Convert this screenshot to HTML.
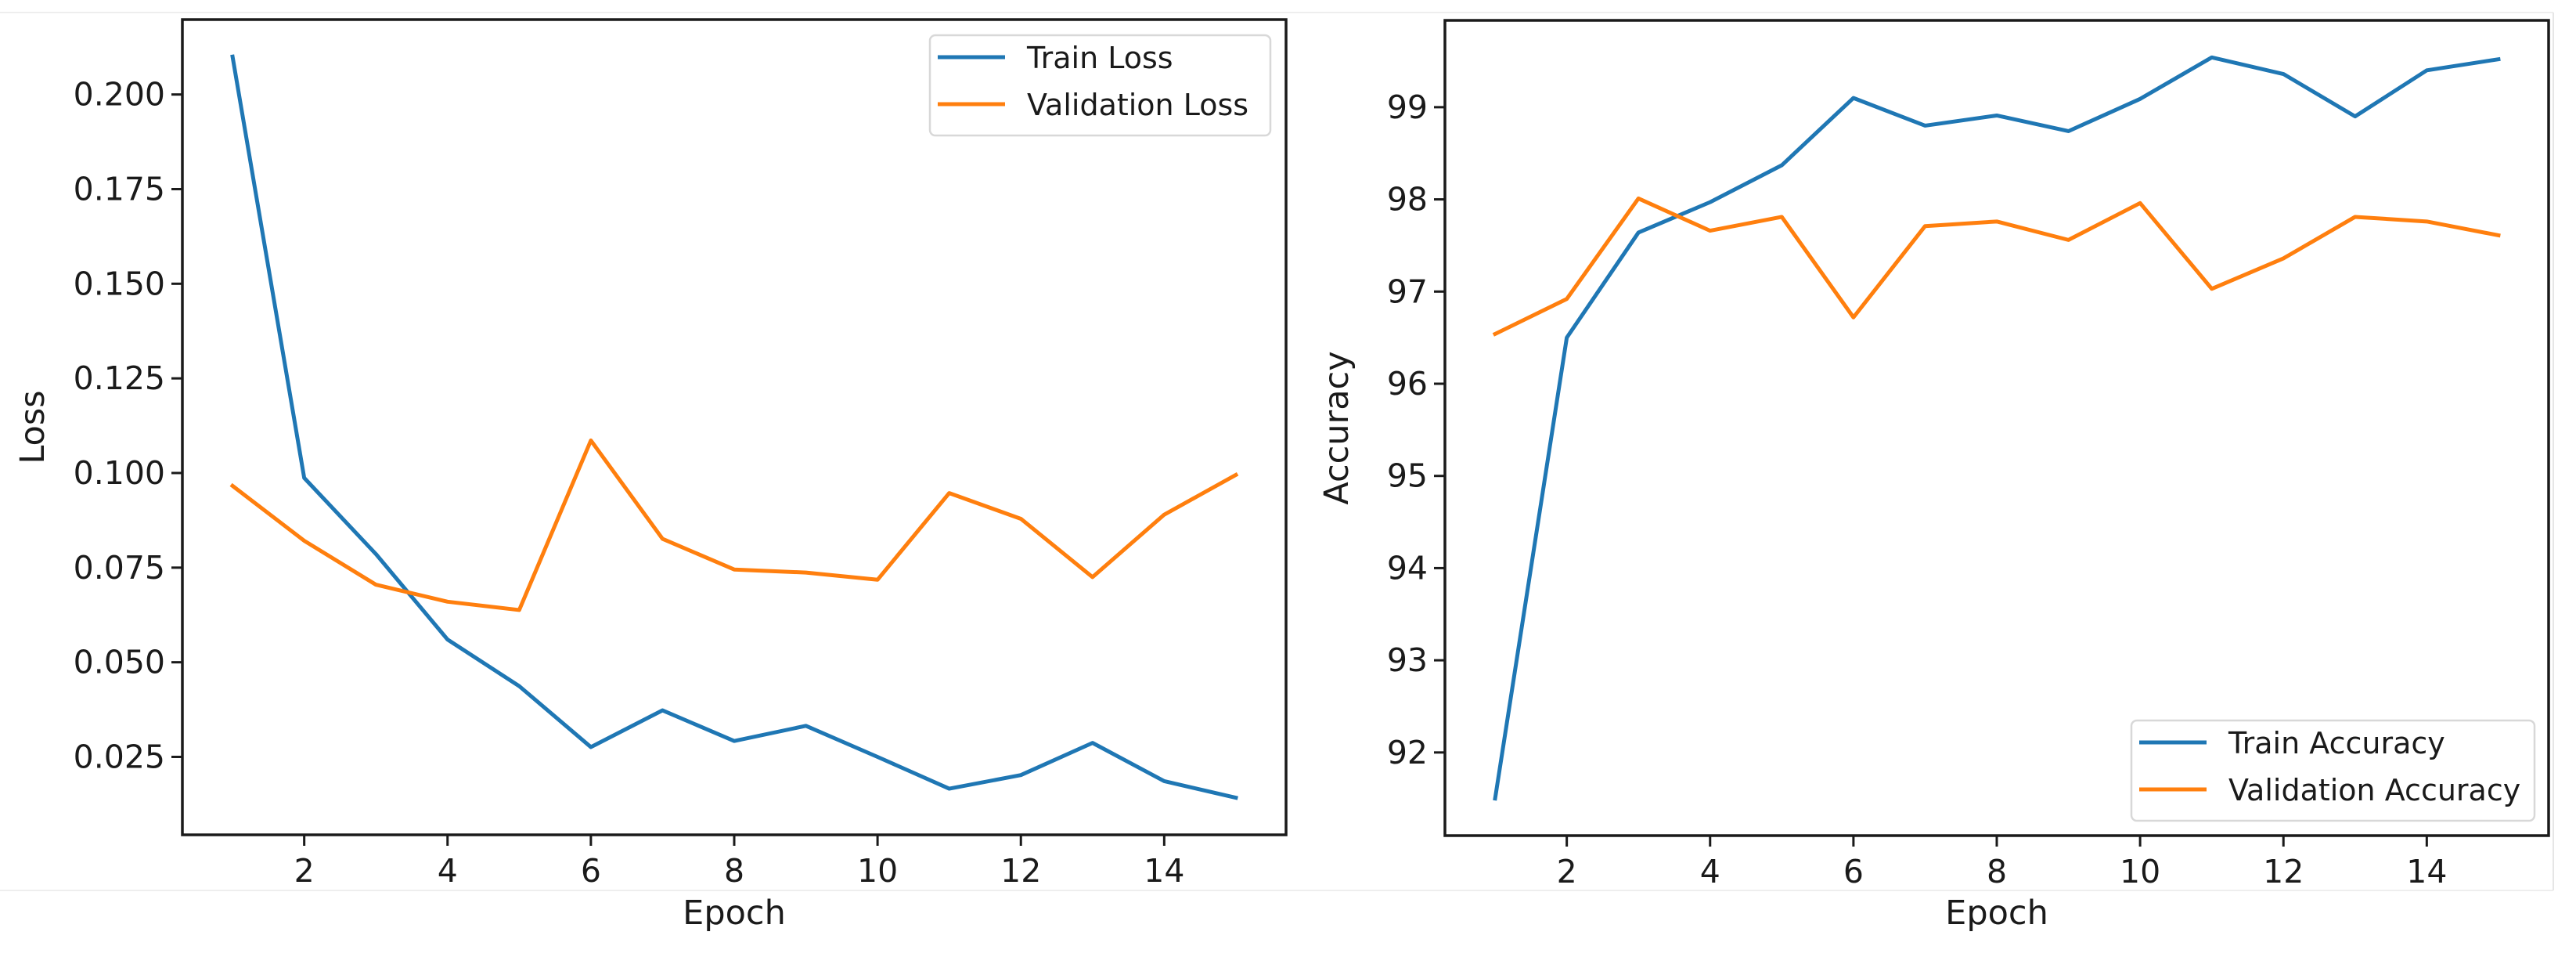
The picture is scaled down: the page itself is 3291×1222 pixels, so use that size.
<!DOCTYPE html>
<html><head><meta charset="utf-8"><style>
html,body{margin:0;padding:0;background:#fff;}
svg{display:block;}
text{font-family:"DejaVu Sans","Liberation Sans",sans-serif;fill:#1a1a1a;}
</style></head><body>
<svg id="chart" width="3291" height="1222" viewBox="0 0 3291 1222" xmlns="http://www.w3.org/2000/svg">
<rect x="0" y="0" width="3291" height="1222" fill="#fff"/>
<line x1="0" y1="16" x2="3262" y2="16" stroke="#eee" stroke-width="2"/>
<line x1="0" y1="1137" x2="3262" y2="1137" stroke="#eee" stroke-width="2"/>
<line x1="3262" y1="16" x2="3262" y2="1137" stroke="#e6e6e6" stroke-width="2"/>
<g id="left"></g>
<g id="right"></g>
</svg>
<script>
const epochs = [1,2,3,4,5,6,7,8,9,10,11,12,13,14,15];
const trainLoss = [0.210,0.0987,0.0786,0.056,0.0437,0.0276,0.0373,0.0292,0.0332,0.025,0.0166,0.0202,0.0287,0.0186,0.0142];
const valLoss = [0.0966,0.0821,0.0705,0.066,0.0638,0.1086,0.0826,0.0745,0.0737,0.0718,0.0947,0.0879,0.0725,0.0890,0.0995];
const trainAcc = [91.5,96.50,97.64,97.97,98.37,99.10,98.80,98.91,98.74,99.09,99.54,99.36,98.90,99.40,99.52];
const valAcc = [96.54,96.92,98.01,97.66,97.81,96.72,97.71,97.76,97.56,97.96,97.03,97.36,97.81,97.76,97.61];
const xTicks = [2,4,6,8,10,12,14];
const lossTicks = [0.025,0.050,0.075,0.100,0.125,0.150,0.175,0.200];
const lossTickLabels = ["0.025","0.050","0.075","0.100","0.125","0.150","0.175","0.200"];
const accTicks = [92,93,94,95,96,97,98,99];
const accTickLabels = ["92","93","94","95","96","97","98","99"];

const NS = "http://www.w3.org/2000/svg";
function mk(parent, tag, attrs, txt){
  const e = document.createElementNS(NS, tag);
  for (const k in attrs) e.setAttribute(k, attrs[k]);
  if (txt !== undefined) e.textContent = txt;
  parent.appendChild(e);
  return e;
}
function lim(arrs){
  let mn = Infinity, mx = -Infinity;
  arrs.forEach(a => a.forEach(v => { mn = Math.min(mn, v); mx = Math.max(mx, v); }));
  const m = (mx - mn) * 0.05;
  return [mn - m, mx + m];
}
function drawChart(g, box, series, yTicks, yLabels, yTitle, yTitleX, legend){
  const xmn = Math.min(...epochs), xmx = Math.max(...epochs);
  const xm = (xmx - xmn) * 0.05;
  const xs = v => box.l + (v - (xmn - xm)) / ((xmx + xm) - (xmn - xm)) * (box.r - box.l);
  const [ymn, ymx] = lim(series.map(s => s.data));
  const ys = v => box.b - (v - ymn) / (ymx - ymn) * (box.b - box.t);
  series.forEach(s => {
    const p = mk(g, "polyline", {points: s.data.map((v,i) => xs(epochs[i]) + "," + ys(v)).join(" "), fill: "none", stroke: s.color, "stroke-width": 5, "stroke-linejoin": "round", "stroke-linecap": "square"});
    
    
  });
  const fr = mk(g, "rect", {x: box.l, y: box.t, width: box.r - box.l, height: box.b - box.t, fill: "none", stroke: "#1a1a1a", "stroke-width": 3.5});
  
  
  xTicks.forEach(t => {
    const x = xs(t);
    const tl = mk(g, "line", {x1: x, y1: box.b, x2: x, y2: box.b + 14, stroke: "#1a1a1a", "stroke-width": 3});
    
    
    const tx = mk(g, "text", {x: x, y: box.b + 60, "font-size": 41, "text-anchor": "middle"}, String(t));
    
    
  });
  yTicks.forEach((t, i) => {
    const y = ys(t);
    const tl = mk(g, "line", {x1: box.l - 14, y1: y, x2: box.l, y2: y, stroke: "#1a1a1a", "stroke-width": 3});
    
    
    const tx = mk(g, "text", {x: box.l - 22, y: y + 14, "font-size": 41, "text-anchor": "end"}, yLabels[i]);
    
    
  });
  const xt = mk(g, "text", {x: (box.l + box.r) / 2, y: 1180, "font-size": 43, "text-anchor": "middle"}, "Epoch");
  
  
  const yc = (box.t + box.b) / 2;
  const yt = mk(g, "text", {x: yTitleX, y: yc, "font-size": 43, "text-anchor": "middle", transform: "rotate(-90 " + yTitleX + " " + yc + ")"}, yTitle);
  
  
  const lg = mk(g, "g", {});
  
  
  mk(lg, "rect", {x: legend.x, y: legend.y, width: legend.w, height: 128, rx: 7, fill: "#fff", "fill-opacity": 0.85, stroke: "#d8d8d8", "stroke-width": 2.5});
  series.forEach((s, i) => {
    const ly = legend.y + 28 + i * 60;
    const ent = mk(lg, "g", {});
    
    
    mk(ent, "line", {x1: legend.x + 10, y1: ly, x2: legend.x + 96, y2: ly, stroke: s.color, "stroke-width": 5});
    mk(ent, "text", {x: legend.x + 124, y: ly + 14, "font-size": 38}, s.label);
  });
}
drawChart(document.getElementById("left"), {l: 233, r: 1643, t: 25, b: 1066},
  [{data: trainLoss, color: "#1f77b4", label: "Train Loss", name: "train-loss-line"},
   {data: valLoss, color: "#ff7f0e", label: "Validation Loss", name: "validation-loss-line"}],
  lossTicks, lossTickLabels, "Loss", 56, {x: 1188, y: 45, w: 435});
drawChart(document.getElementById("right"), {l: 1846, r: 3256, t: 26, b: 1067},
  [{data: trainAcc, color: "#1f77b4", label: "Train Accuracy", name: "train-accuracy-line"},
   {data: valAcc, color: "#ff7f0e", label: "Validation Accuracy", name: "validation-accuracy-line"}],
  accTicks, accTickLabels, "Accuracy", 1722, {x: 2723, y: 920, w: 515});
</script>
</body></html>
